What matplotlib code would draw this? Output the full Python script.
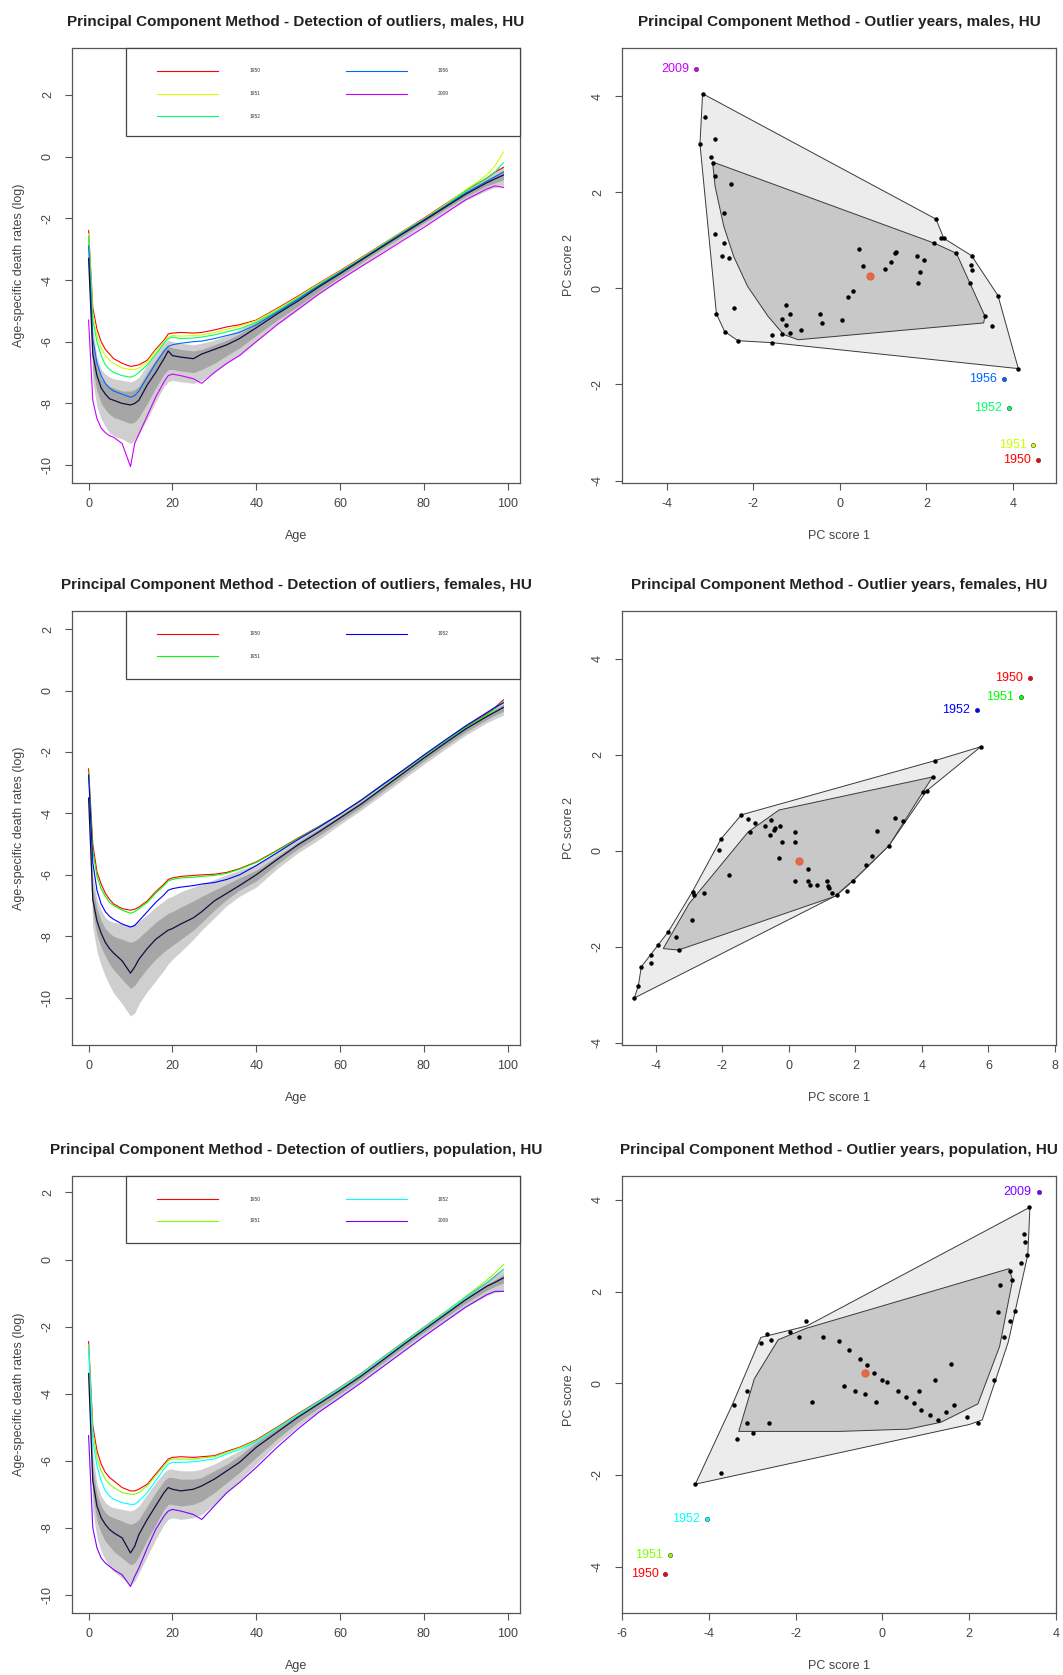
import matplotlib
matplotlib.use("Agg")
import matplotlib.pyplot as plt
from matplotlib.patches import Polygon, Rectangle

plt.rcParams['font.family'] = ['Liberation Sans', 'DejaVu Sans']

# ------------------------------------------------------------------ data
AGES = [0, 1, 2, 3, 4, 5, 6, 8, 10, 11, 12, 14, 16, 18, 19, 20, 22, 25, 27, 30,
        33, 36, 40, 45, 50, 55, 60, 65, 70, 75, 80, 85, 90, 95, 97, 99]

# ---- males (log death rates)
M_MEDIAN = [-3.3, -6.4, -7.1, -7.5, -7.7, -7.85, -7.9, -8.0, -8.05, -8.0, -7.9, -7.4, -7.0, -6.55, -6.3, -6.45, -6.5, -6.55, -6.4, -6.25,
            -6.1, -5.9, -5.55, -5.1, -4.68, -4.22, -3.8, -3.36, -2.93, -2.5, -2.08, -1.65, -1.22, -0.85, -0.72, -0.6]
M_BAG_HI = [-3.0, -6.0, -6.8, -7.2, -7.35, -7.45, -7.5, -7.6, -7.6, -7.55, -7.45, -7.0, -6.6, -6.25, -6.15, -6.2, -6.25, -6.3, -6.25, -6.1,
            -5.95, -5.75, -5.4, -4.98, -4.58, -4.14, -3.72, -3.3, -2.87, -2.44, -2.02, -1.58, -1.14, -0.75, -0.6, -0.45]
M_BAG_LO = [-3.6, -6.9, -7.6, -8.0, -8.2, -8.35, -8.45, -8.55, -8.65, -8.6, -8.45, -8.0, -7.5, -7.05, -6.9, -6.9, -6.95, -7.0, -6.9, -6.7,
            -6.45, -6.2, -5.8, -5.3, -4.85, -4.36, -3.9, -3.45, -3.0, -2.58, -2.15, -1.72, -1.3, -0.95, -0.85, -0.75]
M_FEN_HI = [-2.7, -5.6, -6.5, -6.9, -7.05, -7.15, -7.2, -7.25, -7.3, -7.25, -7.15, -6.75, -6.35, -6.05, -5.95, -6.0, -6.05, -6.1, -6.05, -5.95,
            -5.8, -5.6, -5.3, -4.9, -4.5, -4.08, -3.66, -3.25, -2.82, -2.39, -1.97, -1.52, -1.06, -0.65, -0.48, -0.3]
M_FEN_LO = [-3.9, -7.3, -8.1, -8.5, -8.75, -8.95, -9.05, -9.15, -9.3, -9.2, -9.0, -8.5, -7.95, -7.45, -7.3, -7.25, -7.3, -7.35, -7.25, -7.0,
            -6.7, -6.45, -6.0, -5.45, -4.97, -4.46, -4.0, -3.55, -3.1, -2.67, -2.24, -1.82, -1.42, -1.1, -1.0, -0.95]
M_OUT_YEARS = ["1950", "1951", "1952", "1956", "2009"]
M_OUT_COLORS = ["#FF0000", "#CCFF00", "#00FF66", "#0066FF", "#CC00FF"]
M_OUT = [
    [-2.4, -4.9, -5.6, -6.0, -6.25, -6.4, -6.55, -6.7, -6.8, -6.78, -6.75, -6.6, -6.25, -5.95, -5.75, -5.72, -5.7, -5.72, -5.7, -5.62,
     -5.52, -5.45, -5.3, -4.92, -4.52, -4.1, -3.7, -3.28, -2.85, -2.42, -2.0, -1.55, -1.1, -0.7, -0.5, -0.35],
    [-2.5, -5.1, -5.8, -6.2, -6.45, -6.6, -6.7, -6.85, -6.9, -6.9, -6.85, -6.65, -6.3, -6.0, -5.85, -5.8, -5.82, -5.8, -5.78, -5.7,
     -5.6, -5.5, -5.32, -4.95, -4.55, -4.12, -3.72, -3.3, -2.86, -2.43, -2.02, -1.57, -1.08, -0.6, -0.3, 0.15],
    [-2.6, -5.3, -6.0, -6.45, -6.75, -6.9, -7.0, -7.1, -7.15, -7.1, -7.0, -6.75, -6.4, -6.05, -5.9, -5.85, -5.9, -5.88, -5.85, -5.78,
     -5.68, -5.58, -5.38, -5.0, -4.58, -4.15, -3.74, -3.32, -2.88, -2.45, -2.04, -1.6, -1.12, -0.7, -0.5, -0.2],
    [-2.9, -5.9, -6.7, -7.1, -7.35, -7.5, -7.6, -7.7, -7.8, -7.75, -7.6, -7.15, -6.7, -6.3, -6.15, -6.1, -6.05, -6.0, -5.98, -5.9,
     -5.8, -5.7, -5.45, -5.05, -4.62, -4.18, -3.76, -3.34, -2.9, -2.47, -2.05, -1.62, -1.18, -0.8, -0.65, -0.5],
    [-5.3, -7.9, -8.5, -8.8, -8.95, -9.05, -9.1, -9.3, -10.05, -9.3, -9.0, -8.4, -7.8, -7.3, -7.1, -7.05, -7.1, -7.2, -7.35, -7.0,
     -6.7, -6.45, -6.0, -5.45, -4.95, -4.45, -4.0, -3.57, -3.15, -2.72, -2.3, -1.85, -1.4, -1.05, -0.95, -1.0],
]

# ---- females
F_MEDIAN = [-3.5, -6.8, -7.5, -7.9, -8.2, -8.4, -8.55, -8.8, -9.2, -9.0, -8.75, -8.4, -8.1, -7.9, -7.8, -7.75, -7.6, -7.4, -7.2, -6.85,
            -6.6, -6.35, -6.0, -5.5, -5.02, -4.6, -4.15, -3.7, -3.2, -2.7, -2.2, -1.72, -1.25, -0.85, -0.7, -0.55]
F_BAG_HI = [-3.2, -6.4, -7.1, -7.5, -7.75, -7.9, -8.0, -8.1, -8.2, -8.15, -8.05, -7.8, -7.55, -7.35, -7.25, -7.2, -7.05, -6.85, -6.7, -6.5,
            -6.3, -6.1, -5.85, -5.4, -4.93, -4.5, -4.07, -3.62, -3.13, -2.63, -2.14, -1.66, -1.19, -0.78, -0.62, -0.45]
F_BAG_LO = [-3.8, -7.2, -7.95, -8.35, -8.65, -8.9, -9.1, -9.4, -9.7, -9.6, -9.4, -9.05, -8.75, -8.5, -8.4, -8.3, -8.1, -7.8, -7.55, -7.15,
            -6.8, -6.5, -6.2, -5.65, -5.15, -4.72, -4.26, -3.8, -3.3, -2.8, -2.3, -1.82, -1.35, -0.95, -0.8, -0.68]
F_FEN_HI = [-2.9, -6.0, -6.8, -7.15, -7.4, -7.5, -7.55, -7.6, -7.65, -7.6, -7.5, -7.3, -7.05, -6.85, -6.75, -6.7, -6.55, -6.4, -6.3, -6.15,
            -6.0, -5.85, -5.65, -5.25, -4.82, -4.42, -4.0, -3.55, -3.06, -2.56, -2.07, -1.58, -1.1, -0.68, -0.5, -0.3]
F_FEN_LO = [-4.1, -7.7, -8.5, -8.95, -9.3, -9.6, -9.85, -10.2, -10.6, -10.5, -10.2, -9.8, -9.45, -9.1, -8.9, -8.75, -8.5, -8.1, -7.8, -7.4,
            -7.0, -6.7, -6.4, -5.8, -5.28, -4.85, -4.36, -3.9, -3.4, -2.9, -2.4, -1.92, -1.45, -1.05, -0.92, -0.8]
F_OUT_YEARS = ["1950", "1951", "1952"]
F_OUT_COLORS = ["#FF0000", "#00FF00", "#0000FF"]
F_OUT = [
    [-2.55, -5.0, -5.9, -6.3, -6.6, -6.8, -6.95, -7.1, -7.15, -7.12, -7.05, -6.85, -6.55, -6.3, -6.15, -6.1, -6.05, -6.02, -6.0, -5.98,
     -5.92, -5.8, -5.58, -5.2, -4.8, -4.42, -4.02, -3.58, -3.08, -2.6, -2.12, -1.65, -1.18, -0.75, -0.55, -0.3],
    [-2.65, -5.2, -6.05, -6.45, -6.7, -6.9, -7.0, -7.15, -7.25, -7.2, -7.1, -6.9, -6.6, -6.35, -6.2, -6.15, -6.1, -6.08, -6.05, -6.02,
     -5.95, -5.82, -5.6, -5.22, -4.82, -4.43, -4.03, -3.58, -3.1, -2.62, -2.13, -1.65, -1.2, -0.8, -0.6, -0.35],
    [-2.75, -5.6, -6.5, -6.95, -7.2, -7.35, -7.45, -7.6, -7.7, -7.65, -7.5, -7.2, -6.9, -6.65, -6.5, -6.45, -6.4, -6.35, -6.3, -6.25,
     -6.15, -6.0, -5.7, -5.28, -4.85, -4.45, -4.02, -3.57, -3.08, -2.6, -2.1, -1.62, -1.15, -0.72, -0.55, -0.4],
]

# ---- population
P_MEDIAN = [-3.4, -6.6, -7.35, -7.7, -7.9, -8.05, -8.15, -8.3, -8.75, -8.55, -8.2, -7.75, -7.35, -6.95, -6.8, -6.85, -6.9, -6.85, -6.75, -6.55,
            -6.3, -6.05, -5.6, -5.15, -4.7, -4.3, -3.9, -3.48, -3.02, -2.55, -2.1, -1.65, -1.2, -0.8, -0.68, -0.55]
P_BAG_HI = [-3.1, -6.2, -7.0, -7.35, -7.55, -7.65, -7.7, -7.8, -7.9, -7.85, -7.75, -7.35, -6.95, -6.6, -6.5, -6.5, -6.55, -6.55, -6.5, -6.3,
            -6.1, -5.85, -5.45, -5.03, -4.62, -4.22, -3.83, -3.42, -2.96, -2.5, -2.05, -1.6, -1.14, -0.74, -0.6, -0.45]
P_BAG_LO = [-3.7, -7.0, -7.8, -8.15, -8.4, -8.55, -8.7, -8.9, -9.1, -9.05, -8.85, -8.35, -7.9, -7.45, -7.3, -7.3, -7.35, -7.3, -7.2, -6.95,
            -6.65, -6.35, -5.9, -5.35, -4.85, -4.42, -4.0, -3.56, -3.1, -2.64, -2.18, -1.74, -1.3, -0.92, -0.8, -0.7]
P_FEN_HI = [-2.8, -5.8, -6.7, -7.05, -7.25, -7.35, -7.4, -7.45, -7.5, -7.45, -7.35, -7.0, -6.65, -6.35, -6.25, -6.25, -6.3, -6.3, -6.25, -6.1,
            -5.9, -5.7, -5.35, -4.95, -4.55, -4.16, -3.77, -3.37, -2.91, -2.45, -2.0, -1.54, -1.07, -0.65, -0.5, -0.32]
P_FEN_LO = [-4.0, -7.5, -8.3, -8.7, -8.95, -9.15, -9.3, -9.5, -9.7, -9.6, -9.35, -8.85, -8.35, -7.9, -7.75, -7.7, -7.75, -7.7, -7.6, -7.3,
            -6.95, -6.6, -6.1, -5.5, -4.98, -4.52, -4.1, -3.65, -3.18, -2.72, -2.26, -1.84, -1.42, -1.08, -0.98, -0.95]
P_OUT_YEARS = ["1950", "1951", "1952", "2009"]
P_OUT_COLORS = ["#FF0000", "#80FF00", "#00FFFF", "#8000FF"]
P_OUT = [
    [-2.45, -4.95, -5.7, -6.1, -6.35, -6.5, -6.6, -6.8, -6.9, -6.9, -6.85, -6.7, -6.4, -6.1, -5.95, -5.9, -5.88, -5.9, -5.88, -5.85,
     -5.72, -5.6, -5.38, -5.0, -4.6, -4.22, -3.82, -3.4, -2.94, -2.48, -2.02, -1.58, -1.12, -0.7, -0.5, -0.3],
    [-2.55, -5.15, -5.9, -6.3, -6.55, -6.7, -6.8, -6.95, -7.0, -7.0, -6.95, -6.75, -6.45, -6.15, -6.0, -5.95, -5.95, -5.95, -5.92, -5.88,
     -5.75, -5.62, -5.4, -5.02, -4.62, -4.23, -3.83, -3.41, -2.95, -2.49, -2.03, -1.58, -1.1, -0.62, -0.4, -0.15],
    [-2.65, -5.4, -6.15, -6.6, -6.9, -7.05, -7.15, -7.25, -7.3, -7.3, -7.2, -6.95, -6.6, -6.25, -6.1, -6.05, -6.05, -6.03, -6.0, -5.95,
     -5.8, -5.67, -5.43, -5.04, -4.64, -4.24, -3.84, -3.42, -2.96, -2.5, -2.04, -1.6, -1.13, -0.7, -0.52, -0.3],
    [-5.25, -8.0, -8.6, -8.9, -9.05, -9.15, -9.25, -9.4, -9.75, -9.45, -9.2, -8.6, -8.05, -7.65, -7.5, -7.45, -7.5, -7.6, -7.75, -7.35,
     -6.95, -6.65, -6.2, -5.6, -5.05, -4.55, -4.12, -3.68, -3.22, -2.76, -2.3, -1.86, -1.42, -1.05, -0.95, -0.95],
]

# ---- PC scores, males
M_PC1 = [-3.17, -3.11, -2.88, -3.23, -2.98, -2.92, -2.52, -2.88, -2.68, -2.88, -2.68, -2.72, -2.56, -2.45, -2.85, -2.66, -2.35, -1.57,
         -1.57, -1.33, -1.25, -1.33, -1.25, -1.15, -1.14, -0.89, -0.45, -0.42, 0.06, 0.18, 0.31, 0.44, 0.53, 1.04, 1.18, 1.28, 1.30,
         1.79, 1.81, 1.85, 1.94, 2.18, 2.34, 2.40, 2.22, 2.69, 3.04, 3.02, 3.04, 3.00, 3.35, 3.51, 3.65, 4.12]
M_PC2 = [4.05, 3.57, 3.10, 3.00, 2.74, 2.60, 2.17, 2.34, 1.56, 1.13, 0.94, 0.68, 0.63, -0.41, -0.53, -0.90, -1.09, -0.98,
         -1.13, -0.64, -0.77, -0.96, -0.35, -0.53, -0.93, -0.86, -0.53, -0.73, -0.66, -0.17, -0.06, 0.82, 0.46, 0.41, 0.54, 0.73, 0.76,
         0.68, 0.11, 0.35, 0.59, 0.94, 1.04, 1.04, 1.44, 0.73, 0.68, 0.49, 0.39, 0.11, -0.58, -0.79, -0.15, -1.67]
M_OUT_PC1 = [4.58, 4.47, 3.90, 3.79, -3.31]
M_OUT_PC2 = [-3.57, -3.26, -2.50, -1.88, 4.57]
M_CENTER = [0.69, 0.26]
M_LOOP = [(-3.17, 4.05), (2.22, 1.44), (2.40, 1.04), (3.04, 0.68), (3.65, -0.15), (4.12, -1.67), (-1.57, -1.13),
          (-2.35, -1.09), (-2.66, -0.90), (-2.85, -0.53), (-3.23, 3.00)]
M_BAG = [(-2.94, 2.63), (2.18, 0.94), (2.69, 0.73), (3.35, -0.58), (3.32, -0.72), (-0.96, -1.07), (-1.30, -0.96),
         (-1.66, -0.58), (-2.13, 0.04), (-2.45, 0.66), (-2.68, 1.29), (-2.88, 2.12)]

# ---- PC scores, females
F_PC1 = [-1.43, -1.23, -1.02, -1.17, -2.04, -2.09, -1.79, -2.55, -2.89, -2.86, -2.91, -3.63, -3.40, -3.32, -3.95, -4.14, -4.16,
         -4.44, -4.53, -4.65, -0.72, -0.54, -0.58, -0.44, -0.41, -0.26, -0.20, -0.29, 0.17, 0.17, 0.18, 0.56, 0.58, 0.64, 0.85,
         1.15, 1.17, 1.21, 1.28, 1.43, 1.74, 1.94, 2.32, 2.50, 2.66, 3.01, 3.20, 3.42, 4.03, 4.14, 4.32, 4.39, 5.77]
F_PC2 = [0.75, 0.66, 0.58, 0.39, 0.25, 0.01, -0.51, -0.89, -0.86, -0.93, -1.45, -1.69, -1.79, -2.07, -1.97, -2.17, -2.35,
         -2.42, -2.82, -3.07, 0.51, 0.65, 0.32, 0.44, 0.47, 0.51, 0.19, -0.15, 0.39, 0.19, -0.64, -0.39, -0.62, -0.72, -0.72,
         -0.64, -0.73, -0.78, -0.89, -0.93, -0.84, -0.62, -0.30, -0.10, 0.42, 0.11, 0.68, 0.63, 1.23, 1.25, 1.54, 1.88, 2.17]
F_OUT_PC1 = [7.25, 6.98, 5.65]
F_OUT_PC2 = [3.61, 3.21, 2.93]
F_CENTER = [0.31, -0.21]
F_LOOP = [(-4.65, -3.07), (-4.53, -2.82), (-4.44, -2.42), (-3.63, -1.69), (-2.91, -0.86), (-2.04, 0.25), (-1.43, 0.75),
          (4.39, 1.88), (5.77, 2.17), (4.14, 1.25), (3.01, 0.11), (1.94, -0.62), (1.43, -0.93)]
F_BAG = [(-3.78, -2.04), (-3.0, -1.1), (-1.23, 0.39), (-0.3, 0.85), (4.32, 1.54), (4.03, 1.23), (3.01, 0.11),
         (1.99, -0.58), (1.38, -0.95), (-3.32, -2.07)]

# ---- PC scores, population
P_PC1 = [-3.41, -3.11, -2.79, -2.67, -2.57, -2.12, -1.93, -1.75, -1.38, -1.01, -0.77, -0.52, -0.35, -0.20, -0.02, 0.10,
         0.35, 0.54, 0.72, 0.89, 1.09, 1.28, 1.46, 1.65, 1.95, 2.20, 2.57, 2.81, 2.94, 3.06, 3.19, 2.94, 2.99, 2.72, 2.67,
         3.26, 3.28, 3.33, 3.38, -3.11, -2.99, -3.36, -2.62, -1.63, -0.89, -0.64, -0.40, -0.15, 0.84, 1.21, 1.58, -3.73, -4.31]
P_PC2 = [-0.47, -0.16, 0.88, 1.07, 0.95, 1.12, 1.00, 1.35, 1.00, 0.93, 0.72, 0.53, 0.40, 0.23, 0.07, 0.02,
         -0.16, -0.30, -0.44, -0.58, -0.70, -0.81, -0.63, -0.47, -0.74, -0.86, 0.07, 1.00, 1.35, 1.58, 2.63, 2.44, 2.25, 2.14, 1.56,
         3.25, 3.08, 2.79, 3.84, -0.86, -1.09, -1.21, -0.86, -0.40, -0.05, -0.16, -0.23, -0.40, -0.16, 0.07, 0.42, -1.95, -2.20]
P_OUT_PC1 = [-5.00, -4.89, -4.04, 3.60]
P_OUT_PC2 = [-4.16, -3.74, -2.96, 4.18]
P_CENTER = [-0.40, 0.22]
P_LOOP = [(-4.31, -2.20), (-3.45, -0.45), (-2.80, 1.00), (-1.74, 1.25), (3.40, 3.84), (3.35, 2.80), (2.90, 0.90),
          (2.30, -0.80), (2.00, -0.90)]
P_BAG = [(-3.31, -1.05), (-2.95, 0.10), (-2.40, 0.95), (-1.75, 1.20), (2.92, 2.50), (3.00, 2.25), (2.70, 0.80),
         (2.20, -0.45), (1.35, -0.85), (0.60, -1.00), (-1.00, -1.05)]

# ------------------------------------------------------------------ layout
W, H = 1063, 1675
fig = plt.figure(figsize=(W / 100, H / 100), dpi=100)
fig.patch.set_facecolor("white")

LEFT_X = (72, 520)
RIGHT_X = (622, 1056)
ROWS_Y = [(48, 483), (611, 1045), (1176, 1613)]

SPINE = "#555555"


def make_axes(xpx, ypx):
    l, r = xpx
    t, b = ypx
    return fig.add_axes([l / W, 1 - b / H, (r - l) / W, (b - t) / H])


def style(ax, title, xlabel, ylabel, xticks, yticks):
    for s in ax.spines.values():
        s.set_color(SPINE)
        s.set_linewidth(0.9)
    ax.set_xticks(xticks)
    ax.set_yticks(yticks)
    ax.set_xticklabels([str(v) for v in xticks])
    ax.set_yticklabels([str(v) for v in yticks])
    ax.tick_params(direction="out", length=5, width=0.8, color=SPINE,
                   labelsize=9, labelcolor="#444444")
    ax.tick_params(axis="x", pad=6)
    ax.tick_params(axis="y", pad=8)
    for lab in ax.get_yticklabels():
        lab.set_rotation(90)
        lab.set_va("center")
    ax.set_xlabel(xlabel, fontsize=9, color="#444444", labelpad=14)
    ax.set_ylabel(ylabel, fontsize=9, color="#444444", labelpad=12)
    ax.set_title(title, fontsize=11, fontweight="bold", color="#222222", pad=16)


def draw_fbag(ax, median, bag_hi, bag_lo, fen_hi, fen_lo, outs, colors, years, ylim, legend_px):
    ax.fill_between(AGES, fen_lo, fen_hi, color="#cfcfcf", lw=0, zorder=1)
    ax.fill_between(AGES, bag_lo, bag_hi, color="#a6a6a6", lw=0, zorder=2)
    for vals, c in zip(outs, colors):
        ax.plot(AGES, vals, color=c, lw=0.8, zorder=3)
    ax.plot(AGES, median, color="#101040", lw=0.9, zorder=4)
    ax.set_xlim(-3.96, 102.96)
    ax.set_ylim(*ylim)
    # legend box (R-style)
    axh = ax.get_position().height * H
    axw = ax.get_position().width * W
    box_left, box_bottom, row_ys = legend_px
    bl = box_left / axw
    bb = 1 - box_bottom / axh
    ax.add_patch(Rectangle((bl, bb), 1 - bl, 1 - bb, transform=ax.transAxes,
                           facecolor="white", edgecolor="#444444", lw=0.9, zorder=6, clip_on=False))
    nrows = len(row_ys)
    for i, (yr, c) in enumerate(zip(years, colors)):
        col = i // nrows
        row = i % nrows
        yy = 1 - row_ys[row] / axh
        x0 = (85 + col * 188.5) / axw
        x1 = (146 + col * 188.5) / axw
        ax.plot([x0, x1], [yy, yy], color=c, lw=0.8, transform=ax.transAxes, zorder=7)
        ax.text((178 + col * 188) / axw, yy, yr, transform=ax.transAxes, fontsize=3.5,
                color="#333333", va="center", ha="left", zorder=7)


def draw_pc(ax, pc1, pc2, loop, bag, center, o1, o2, colors, years, xlim, ylim):
    ax.add_patch(Polygon(loop, closed=True, facecolor="#ececec", edgecolor="#3a3a3a", lw=0.7, zorder=1))
    ax.add_patch(Polygon(bag, closed=True, facecolor="#c8c8c8", edgecolor="#3a3a3a", lw=0.7, zorder=2))
    ax.plot(pc1, pc2, "o", color="black", ms=2.2, zorder=3)
    ax.plot([center[0]], [center[1]], "o", color="#e5603a", ms=5, alpha=0.9, zorder=4)
    for x, y, c, yr in zip(o1, o2, colors, years):
        ax.plot([x], [y], "o", color=c, ms=3.2, mec="#222222", mew=0.3, zorder=5)
        ax.annotate(yr, (x, y), xytext=(-5, 0), textcoords="offset points", ha="right", va="center",
                    fontsize=9, color=c, zorder=5)
    ax.set_xlim(*xlim)
    ax.set_ylim(*ylim)


AGE_TICKS = [0, 20, 40, 60, 80, 100]
RATE_TICKS = [-10, -8, -6, -4, -2, 0, 2]
PC2_TICKS = [-4, -2, 0, 2, 4]

# Row 1
ax = make_axes(LEFT_X, ROWS_Y[0])
draw_fbag(ax, M_MEDIAN, M_BAG_HI, M_BAG_LO, M_FEN_HI, M_FEN_LO, M_OUT, M_OUT_COLORS, M_OUT_YEARS,
          (-10.58, 3.52), (54, 88, [23, 45.5, 68]))
style(ax, "Principal Component Method - Detection of outliers, males, HU", "Age",
      "Age-specific death rates (log)", AGE_TICKS, RATE_TICKS)

ax = make_axes(RIGHT_X, ROWS_Y[0])
draw_pc(ax, M_PC1, M_PC2, M_LOOP, M_BAG, M_CENTER, M_OUT_PC1, M_OUT_PC2, M_OUT_COLORS, M_OUT_YEARS,
        (-5.03, 4.99), (-4.05, 5.0))
style(ax, "Principal Component Method - Outlier years, males, HU", "PC score 1", "PC score 2",
      [-4, -2, 0, 2, 4], PC2_TICKS)

# Row 2
ax = make_axes(LEFT_X, ROWS_Y[1])
draw_fbag(ax, F_MEDIAN, F_BAG_HI, F_BAG_LO, F_FEN_HI, F_FEN_LO, F_OUT, F_OUT_COLORS, F_OUT_YEARS,
          (-11.54, 2.59), (54, 68, [22.7, 45.3]))
style(ax, "Principal Component Method - Detection of outliers, females, HU", "Age",
      "Age-specific death rates (log)", AGE_TICKS, RATE_TICKS)

ax = make_axes(RIGHT_X, ROWS_Y[1])
draw_pc(ax, F_PC1, F_PC2, F_LOOP, F_BAG, F_CENTER, F_OUT_PC1, F_OUT_PC2, F_OUT_COLORS, F_OUT_YEARS,
        (-5.02, 8.03), (-4.05, 5.0))
style(ax, "Principal Component Method - Outlier years, females, HU", "PC score 1", "PC score 2",
      [-4, -2, 0, 2, 4, 6, 8], PC2_TICKS)

# Row 3
ax = make_axes(LEFT_X, ROWS_Y[2])
draw_fbag(ax, P_MEDIAN, P_BAG_HI, P_BAG_LO, P_FEN_HI, P_FEN_LO, P_OUT, P_OUT_COLORS, P_OUT_YEARS,
          (-10.54, 2.49), (54, 67, [23.3, 44.6]))
style(ax, "Principal Component Method - Detection of outliers, population, HU", "Age",
      "Age-specific death rates (log)", AGE_TICKS, RATE_TICKS)

ax = make_axes(RIGHT_X, ROWS_Y[2])
draw_pc(ax, P_PC1, P_PC2, P_LOOP, P_BAG, P_CENTER, P_OUT_PC1, P_OUT_PC2, P_OUT_COLORS, P_OUT_YEARS,
        (-6.0, 4.0), (-5.01, 4.52))
style(ax, "Principal Component Method - Outlier years, population, HU", "PC score 1", "PC score 2",
      [-6, -4, -2, 0, 2, 4], PC2_TICKS)

fig.savefig("out.png", dpi=100, facecolor="white")
